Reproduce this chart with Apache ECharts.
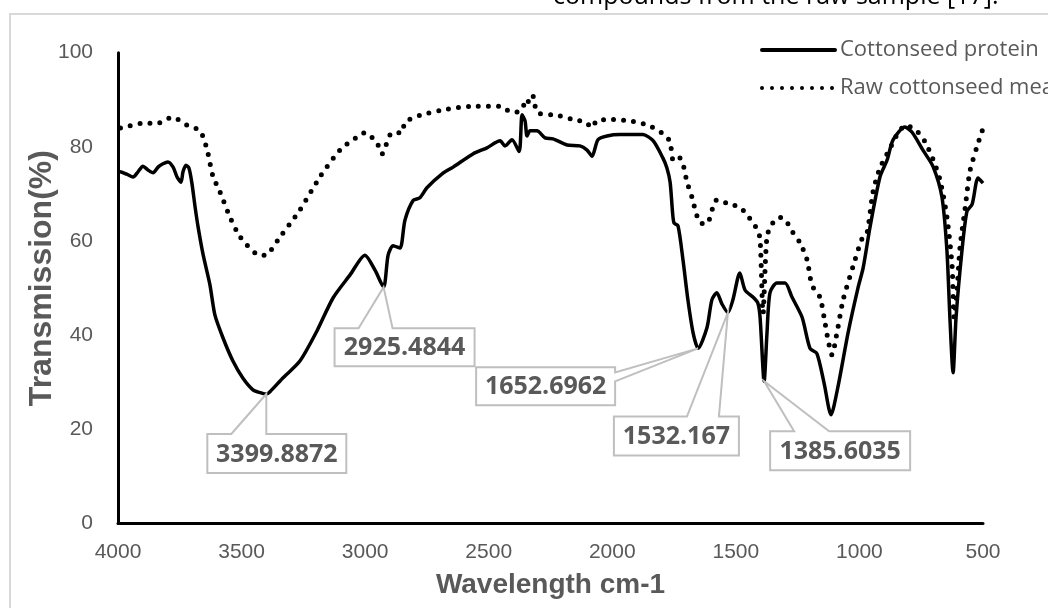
<!DOCTYPE html>
<html><head><meta charset="utf-8">
<script src="https://cdn.jsdelivr.net/npm/echarts@6/dist/echarts.min.js"></script>
<style>html,body{margin:0;padding:0;background:#fff}#c{width:1048px;height:608px}</style>
</head><body><div id="c"></div>
<script>
// ---- data ----
const seriesNames = ['Cottonseed protein', 'Raw cottonseed meal'];

const proteinWavenumber = [3998,3992,3965,3939,3919,3899,3879,3858,3838,3818,3798,3777,3761,3745,3737,3725,3713,3701,3688,3676,3656,3628,3608,3575,3535,3495,3454,3418,3399.8872,3385,3333,3264,3195,3130,3061,3001,2960,2925.4844,2907,2887,2859,2839,2806,2778,2750,2685,2644,2564,2507,2454,2434,2406,2377,2365,2353,2345,2333,2305,2272,2240,2183,2131,2102,2082,2058,2021,1969,1876,1835,1795,1779,1766,1756,1750,1734,1714,1694,1673,1652.6962,1617,1597,1577,1556,1532.167,1512,1484,1463,1431,1411,1402,1385.6035,1374,1362,1334,1301,1273,1232,1200,1172,1143,1115,1087,1046,1006,985,957,917,888,864,816,787,743,702,666,646,634,621,609,585,565,544,520,500];
const proteinTransmission = [74.5,74.7,74.2,73.6,74.7,75.9,75.1,74.5,75.7,76.4,76.8,75.7,73.6,72.5,74.7,76.1,75.5,72.3,67.2,63.0,57.2,50.7,44.3,39.4,34.5,30.9,28.4,27.7,27.5,28.0,30.9,34.5,40.9,47.9,52.8,57.0,53.8,50.2,57.0,59.0,58.5,64.4,68.6,69.2,71.3,74.4,75.7,78.5,79.8,81.3,80.2,81.5,79.0,86.8,85.5,82.3,83.4,83.4,81.9,81.7,80.4,80.2,79.3,78.0,81.5,82.3,82.6,82.6,81.3,77.6,75.5,72.5,66.0,63.8,63.2,56.0,47.5,40.5,37.2,41.6,47.5,49.0,46.6,44.8,47.5,53.2,49.6,48.1,46.8,43.8,30.2,40.5,49.0,51.1,51.1,48.1,43.8,37.2,36.1,29.8,23.1,29.0,40.5,50.0,54.3,63.0,73.6,77.2,81.5,84.2,83.1,79.3,75.8,69.3,58.0,43.8,32.0,43.8,58.0,66.3,67.8,73.4,72.3];

const mealWavenumber = [3990,3972,3899,3842,3781,3721,3668,3640,3616,3587,3547,3506,3438,3405,3344,3264,3183,3102,3033,3001,2952,2932,2891,2851,2839,2778,2697,2576,2454,2422,2386,2361,2353,2333,2321,2313,2301,2224,2143,2110,2082,2062,1997,1916,1847,1787,1766,1754,1734,1714,1698,1677,1657,1637,1617,1592,1576,1536,1483,1451,1414,1402,1390,1374,1350,1321,1301,1269,1240,1212,1192,1160,1143,1127,1111,1091,1066,1026,990,969,945,917,876,844,812,767,735,702,674,646,625,617,605,593,572,553,524,500];
const mealTransmission = [84.0,84.2,85.0,85.0,86.3,84.6,83.4,79.5,73.8,70.4,65.1,60.9,57.2,57.0,60.9,66.6,73.6,79.3,82.1,83.0,80.8,78.5,83.0,83.0,85.2,86.7,87.7,88.6,88.6,87.7,87.4,88.4,90.1,89.4,90.8,88.8,87.2,86.7,85.6,85.4,84.1,85.6,85.8,85.4,84.4,82.5,81.0,77.3,78.0,76.3,72.6,69.2,65.3,63.7,63.7,67.3,68.8,68.0,67.1,65.3,62.5,60.4,44.6,61.0,63.9,65.0,64.6,61.8,59.6,56.0,50.6,48.1,43.8,39.0,35.8,40.5,47.5,54.6,60.4,61.8,70.4,75.5,79.7,82.9,84.6,83.3,81.1,77.3,73.0,65.1,54.6,43.8,49.6,58.7,67.1,74.8,80.1,83.9];

const peakWavenumber = [3399.8872, 2925.4844, 1652.6962, 1532.167, 1385.6035];
const peakTransmission = [27.5, 50.2, 37.2, 44.8, 30.2];
const peakText = ['3399.8872', '2925.4844', '1652.6962', '1532.167', '1385.6035'];

const xMin = 500, xMax = 4000, xStep = 500;
const yMin = 0, yMax = 100, yStep = 20;

const xTitle = 'Wavelength cm-1';
const yTitle = 'Transmission(%)';
const captionText = 'compounds from the raw sample [17].';

// ---- layout (pixels, relative to each peak point) ----
const calloutLayout = [
  {dx:-59, dy:40, w:139, h:39, side:'top', a:-35, b:0},
  {dx:-49, dy:41, w:140, h:38, side:'top', a:-25, b:9},
  {dx:-222, dy:19, w:139, h:38, side:'right', a:24, b:33},
  {dx:-114, dy:104, w:125, h:39, side:'top', a:-41, b:-9},
  {dx:6, dy:50, w:140, h:39, side:'top', a:30, b:65}
];

function zip(xs, ys){ return xs.map((x,i)=>[x, ys[i]]); }

const chart = echarts.init(document.getElementById('c'), null, {renderer:'canvas'});
const option = {
  animation: false,
  backgroundColor: '#fff',
  grid: {left: 118, right: 65, top: 52.7, bottom: 84.5},
  legend: {
    orient: 'vertical', left: 755, top: 34,
    itemWidth: 73, itemHeight: 14, itemGap: 16,
    itemStyle: {opacity: 0},
    lineStyle: {width: 4, cap: 'round'},
    textStyle: {color: '#595959', fontSize: 22, fontFamily: 'Open Sans'},
    data: seriesNames
  },
  xAxis: {
    type: 'value', inverse: true, min: xMin, max: xMax, interval: xStep,
    name: xTitle, nameLocation: 'middle', nameGap: 48, nameMoveOverlap: false,
    nameTextStyle: {color: '#595959', fontSize: 28, fontWeight: 'bold', fontFamily: 'Liberation Sans'},
    axisLine: {show: true, onZero: false, lineStyle: {color: '#000', width: 3}},
    axisTick: {show: false},
    splitLine: {show: false},
    axisLabel: {color: '#595959', fontSize: 21, fontFamily: 'Liberation Sans', margin: 18,
      formatter: v => String(v)}
  },
  yAxis: {
    type: 'value', min: yMin, max: yMax, interval: yStep,
    name: yTitle, nameLocation: 'middle', nameGap: 60, nameMoveOverlap: false,
    nameTextStyle: {color: '#595959', fontSize: 32, fontWeight: 'bold', fontFamily: 'Liberation Sans',
      padding: [0, 0, 0, 20]},
    axisLine: {show: true, onZero: false, lineStyle: {color: '#000', width: 3}},
    axisTick: {show: false},
    splitLine: {show: false},
    axisLabel: {color: '#595959', fontSize: 21, fontFamily: 'Liberation Sans', margin: 25,
      formatter: v => String(v)}
  },
  series: [
    {
      name: seriesNames[0], type: 'line', data: zip(proteinWavenumber, proteinTransmission),
      symbol: 'none', smooth: 0.25, z: 3,
      lineStyle: {color: '#000', width: 3.5}, itemStyle: {color: '#000'}
    },
    {
      name: seriesNames[1], type: 'line', data: zip(mealWavenumber, mealTransmission),
      symbol: 'none', smooth: 0.25, z: 2,
      lineStyle: {color: '#000', width: 5, type: [0, 10], cap: 'round'}, itemStyle: {color: '#000'}
    }
  ]
};
chart.setOption(option);

const g = [];
g.push({type:'rect', z: 0, silent: true, shape:{x:10, y:14, width:1100, height:700},
  style:{fill:'none', stroke:'#d9d9d9', lineWidth:2}});
g.push({type:'text', z: 100, silent: true, x: 553, y: 9,
  style:{text: captionText, fill:'#000', font:'25px "Open Sans"', textAlign:'left', textVerticalAlign:'bottom'}});
peakWavenumber.forEach((wn, i) => {
  const p = chart.convertToPixel({gridIndex: 0}, [wn, peakTransmission[i]]);
  const L = calloutLayout[i];
  const px = p[0], py = p[1];
  const x0 = px + L.dx, y0 = py + L.dy, x1 = x0 + L.w, y1 = y0 + L.h;
  let pts;
  if (L.side === 'top') {
    pts = [[x0,y0],[px+L.a,y0],[px,py],[px+L.b,y0],[x1,y0],[x1,y1],[x0,y1]];
  } else {
    pts = [[x0,y0],[x1,y0],[x1,py+L.a],[px,py],[x1,py+L.b],[x1,y1],[x0,y1]];
  }
  g.push({type:'polygon', z: 100, silent: true, shape:{points: pts},
    style:{fill:'#fff', stroke:'#bfbfbf', lineWidth:2}});
  g.push({type:'text', z: 101, silent: true, x: (x0+x1)/2, y: (y0+y1)/2 + 1,
    style:{text: peakText[i], fill:'#595959', font:'bold 25px "Open Sans"', textAlign:'center', textVerticalAlign:'middle'}});
});
chart.setOption({graphic: g});
</script>
</body></html>
